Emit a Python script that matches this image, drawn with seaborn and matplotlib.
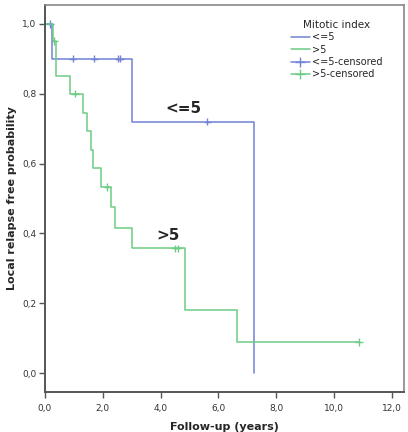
import pandas as pd
import seaborn as sns
import matplotlib.pyplot as plt
from matplotlib.lines import Line2D

# Kaplan-Meier steps
low_times = [0, 0.25, 3.03, 7.24]
low_surv = [1.0, 0.90, 0.72, 0.0]
low_cens_times = [0.17, 0.96, 1.71, 2.54, 2.60, 5.62]
low_cens_surv = [1.0, 0.90, 0.90, 0.90, 0.90, 0.72]

high_times = [0, 0.28, 0.40, 0.87, 1.33, 1.44, 1.58, 1.65, 1.94, 2.28, 2.42, 3.00, 4.84, 6.65, 10.87]
high_surv = [1.0, 0.95, 0.85, 0.80, 0.745, 0.693, 0.64, 0.587, 0.533, 0.476, 0.416, 0.357, 0.181, 0.09, 0.09]
high_cens_times = [0.33, 1.04, 2.16, 4.50, 4.61, 10.87]
high_cens_surv = [0.95, 0.80, 0.533, 0.357, 0.357, 0.09]

groups = ["<=5", ">5"]
colors = {"<=5": "#7282d4", ">5": "#6ccc84"}

curves = pd.concat([
    pd.DataFrame({"time": low_times, "surv": low_surv, "group": "<=5"}),
    pd.DataFrame({"time": high_times, "surv": high_surv, "group": ">5"}),
])
censored = pd.concat([
    pd.DataFrame({"time": low_cens_times, "surv": low_cens_surv, "group": "<=5"}),
    pd.DataFrame({"time": high_cens_times, "surv": high_cens_surv, "group": ">5"}),
])

sns.set_style("white")
plt.rcParams['font.family'] = ['DejaVu Sans']

fig = plt.figure(figsize=(4.08, 4.32), dpi=100)
ax = fig.add_axes([0.110, 0.093, 0.880, 0.895])

sns.lineplot(data=curves, x="time", y="surv", hue="group", palette=colors,
             drawstyle="steps-post", estimator=None, sort=False, units="group",
             linewidth=1.1, legend=False, ax=ax)
sns.scatterplot(data=censored, x="time", y="surv", hue="group", palette=colors,
                marker="+", s=30, linewidth=1.0, legend=False, ax=ax)

ax.set_xlim(0, 12.42)
ax.set_ylim(-0.053, 1.053)
ax.set_xticks([0, 2, 4, 6, 8, 10, 12])
ax.set_yticks([0, 0.2, 0.4, 0.6, 0.8, 1.0])
ax.set_xticklabels([f"{v:.1f}".replace(".", ",") for v in ax.get_xticks()])
ax.set_yticklabels([f"{v:.1f}".replace(".", ",") for v in ax.get_yticks()])
ax.tick_params(axis="both", direction="out", length=4, width=1, colors="#555555",
               labelsize=6.5, labelcolor="#333333", pad=2)
ax.tick_params(axis="x", pad=5)
ax.tick_params(left=True, bottom=True)

for side in ["left", "bottom"]:
    ax.spines[side].set_color("#555555")
    ax.spines[side].set_linewidth(1.4)
for side in ["top", "right"]:
    ax.spines[side].set_color("#888888")
    ax.spines[side].set_linewidth(1.2)

ax.set_xlabel("Follow-up (years)", fontsize=8, fontweight="bold", labelpad=6)
ax.set_ylabel("Local relapse free probability", fontsize=8, fontweight="bold", labelpad=4)

ax.text(4.78, 0.758, "<=5", fontsize=11, fontweight="bold", ha="center", va="center")
ax.text(4.25, 0.395, ">5", fontsize=11, fontweight="bold", ha="center", va="center")

handles = [
    Line2D([], [], color=colors["<=5"], lw=1.1),
    Line2D([], [], color=colors[">5"], lw=1.1),
    Line2D([], [], color=colors["<=5"], lw=1.1, marker="+", markersize=7),
    Line2D([], [], color=colors[">5"], lw=1.1, marker="+", markersize=7),
]
labels = ["<=5", ">5", "<=5-censored", ">5-censored"]
leg = ax.legend(handles, labels, title="Mitotic index", loc="upper left",
                bbox_to_anchor=(0.66, 0.985), frameon=False, fontsize=7,
                title_fontsize=7.5, handlelength=2.0, handletextpad=0.2,
                labelspacing=0.25)

fig.savefig("out.png", dpi=100)
